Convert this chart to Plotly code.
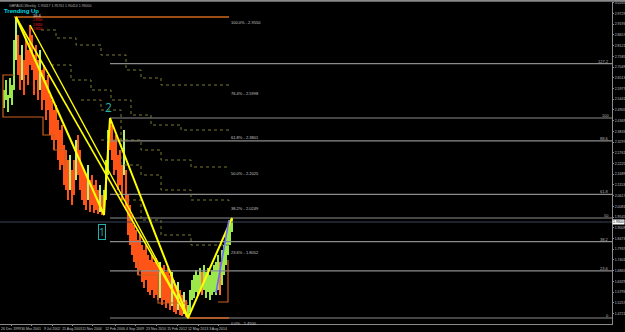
import plotly.graph_objects as go

# ---------------- data ----------------
highs = [2.59, 2.64, 2.565, 2.65, 2.615, 2.84, 2.955, 2.865, 2.765, 2.815,
         2.74, 2.84, 2.79, 2.915, 2.865, 2.765, 2.815, 2.74, 2.79, 2.69,
         2.715, 2.64, 2.665, 2.565, 2.54, 2.49, 2.515, 2.44, 2.39, 2.415,
         2.315, 2.29, 2.24, 2.265, 2.19, 2.24, 2.34, 2.365, 2.29, 2.215,
         2.19, 2.165, 2.215, 2.14, 2.165, 2.115, 2.14, 2.09, 2.115, 2.065,
         2.09, 2.24, 2.39, 2.45, 2.415, 2.34, 2.365, 2.265, 2.29, 2.215,
         2.39, 2.19, 2.065, 2.015, 1.965, 1.915, 1.89, 1.84, 1.865, 1.815,
         1.79, 1.815, 1.765, 1.74, 1.765, 1.73, 1.75, 1.715, 1.73, 1.70,
         1.715, 1.68, 1.70, 1.665, 1.68, 1.64, 1.615, 1.63, 1.59, 1.565,
         1.58, 1.54, 1.515, 1.59, 1.64, 1.665, 1.69, 1.665, 1.70, 1.68,
         1.715, 1.68, 1.70, 1.665, 1.69, 1.715, 1.73, 1.765, 1.73, 1.79,
         1.815, 1.865, 1.90, 1.94, 1.95]
lows = [2.50, 2.54, 2.48, 2.55, 2.515, 2.59, 2.74, 2.665, 2.59, 2.64,
        2.565, 2.665, 2.615, 2.715, 2.69, 2.565, 2.64, 2.54, 2.59, 2.49,
        2.54, 2.44, 2.49, 2.365, 2.34, 2.29, 2.34, 2.24, 2.19, 2.215,
        2.115, 2.09, 2.04, 2.09, 2.015, 2.065, 2.14, 2.165, 2.09, 2.04,
        2.015, 1.99, 2.04, 1.98, 2.015, 1.975, 1.99, 1.97, 1.98, 1.965,
        1.965, 2.04, 2.165, 2.29, 2.24, 2.165, 2.19, 2.09, 2.115, 2.04,
        2.165, 1.99, 1.865, 1.815, 1.765, 1.73, 1.70, 1.665, 1.69, 1.63,
        1.60, 1.64, 1.58, 1.565, 1.59, 1.55, 1.565, 1.54, 1.55, 1.515,
        1.54, 1.50, 1.525, 1.49, 1.51, 1.48, 1.47, 1.49, 1.465, 1.46,
        1.47, 1.455, 1.45, 1.48, 1.54, 1.55, 1.58, 1.56, 1.59, 1.565,
        1.59, 1.55, 1.58, 1.54, 1.565, 1.58, 1.565, 1.59, 1.565, 1.615,
        1.665, 1.715, 1.765, 1.815, 1.88]
bar_idx = list(range(len(highs)))
current_price = 1.93

# zigzag pivots (bar index, price): peak, 1, 2, bottom, last
piv_x = [6, 50, 53, 92, 114]
piv_y = [2.955, 1.965, 2.45, 1.45, 1.95]
second_top = (13, 2.915)
blue_x = [106, 112.5]
blue_y = [1.575, 1.94]

# fibonacci 1 (dotted guides, peak to bottom)
fib1_hi, fib1_lo = 2.955, 1.45
fib1_levels = [0.0, 23.6, 38.2, 50.0, 61.8, 76.4, 100.0]
fib1_x0, fib1_end = 5, 112.5
# fibonacci 2 (grey, bottom to point 2)
fib2_hi, fib2_lo = 2.45, 1.45
fib2_levels = [0.0, 23.6, 38.2, 50.0, 61.8, 88.6, 100.0, 127.2]
fib2_x0 = 53

# stepped dotted guide lines
steps = [
    ([18.5, 26, 36, 48.5, 61, 68.5, 78.5, 112.5], [2.89, 2.85, 2.815, 2.765, 2.69, 2.65, 2.615, 2.60]),
    ([23.5, 33.5, 43.5, 53.5, 63.5, 73.5, 88.5, 112.5], [2.715, 2.64, 2.59, 2.54, 2.465, 2.415, 2.39, 2.38]),
    ([38.5, 48.5, 58.5, 68.5, 78.5, 93.5, 112.5], [2.54, 2.49, 2.34, 2.29, 2.24, 2.205, 2.2025]),
    ([48.5, 58.5, 68.5, 78.5, 93.5, 112.5], [2.34, 2.215, 2.165, 2.09, 2.04, 2.025]),
    ([58.5, 68.5, 78.5, 93.5, 112.5], [2.04, 1.94, 1.865, 1.815, 1.805]),
]
# orange range boxes
orange_paths = [
    ([5, -0.5, -0.5, 19.5, 19.5, 25, 25, 30.5, 30.5], [2.665, 2.665, 2.455, 2.455, 2.365, 2.365, 2.29, 2.29, 2.19]),
    ([67, 67, 77, 77, 92], [1.74, 1.665, 1.665, 1.525, 1.525]),
    ([107, 112, 112], [1.53, 1.53, 1.74]),
]
peak_notes = ["2.9550", "2.9550", "2.9550"]

date_ticks = [3.5, 13.5, 24, 34, 44, 55.5, 65.5, 76, 86.5, 97, 107]
date_labels = ["26 Dec 1999", "30 Mar 2001", "9 Jul 2002", "21 Aug 2003", "11 Nov 2004",
               "12 Feb 2006", "4 Sep 2009", "23 Nov 2010", "15 Feb 2012", "12 May 2013", "3 Aug 2014"]
price_ticks = [3.0265, 2.9729, 2.9193, 2.8657, 2.8121, 2.7585, 2.7049, 2.6513, 2.5977, 2.5441,
               2.4905, 2.4369, 2.3833, 2.3297, 2.2761, 2.2225, 2.1689, 2.1153, 2.0617, 2.0081,
               1.9545, 1.9009, 1.8473, 1.7937, 1.7401, 1.6865, 1.6329, 1.5793, 1.5257, 1.4721]

X_MIN, X_MAX = -2.0, 304.0
Y_MIN, Y_MAX = 1.42, 3.03

fig = go.Figure()

# price bars first (objects are drawn over the chart, as in the terminal)
bar_colors = []
for i, (h, l) in enumerate(zip(highs, lows)):
    prev = (highs[i - 1] + lows[i - 1]) / 2 if i else (h + l) / 2
    falling_bar = (h + l) / 2 < prev
    down_swing = (piv_x[0] <= i < piv_x[1]) or (piv_x[2] <= i < piv_x[3])
    if down_swing:
        bar_colors.append("#ff5418" if falling_bar or i % 3 else "#b8f07a")
    else:
        bar_colors.append("#9ae84a" if not falling_bar or i % 3 else "#ff7a3a")
fig.add_trace(go.Bar(x=bar_idx, y=[h - l for h, l in zip(highs, lows)], base=lows, width=1.0,
                     marker=dict(color=bar_colors, line=dict(width=0)), hoverinfo="skip"))


def seg(x, y, color, width=1.0, dash=None, shape="linear"):
    fig.add_trace(go.Scatter(x=x, y=y, mode="lines", line_shape=shape,
                             line=dict(color=color, width=width, dash=dash), hoverinfo="skip"))


# fib 2 grey lines
for lv in fib2_levels:
    p = fib2_lo + (fib2_hi - fib2_lo) * lv / 100
    seg([fib2_x0, X_MAX], [p, p], "#8c8c8c", 1.2)
    fig.add_annotation(x=X_MAX, y=p, text=f"{lv:g}", showarrow=False, xanchor="right",
                       yanchor="bottom", font=dict(size=4, color="#b4b4b4", family="Liberation Sans"),
                       xshift=-1, yshift=-2)
# current price line
seg([X_MIN, X_MAX], [current_price, current_price], "#3a4658", 1.2)

# stepped dotted lines
for sx, sy in steps:
    seg(sx, sy, "#78782c", 1, "dot", "hv")
# orange boxes
for ox, oy in orange_paths:
    seg(ox, oy, "#c8601e", 1.2)

# fib 1 solid ends
seg([fib1_x0, fib1_end], [fib1_hi, fib1_hi], "#d2691e", 1.5)
seg([piv_x[3], fib1_end], [fib1_lo, fib1_lo], "#d2691e", 1.5)
for lv in fib1_levels:
    p = fib1_lo + (fib1_hi - fib1_lo) * lv / 100
    fig.add_annotation(x=fib1_end, y=p, text=f"{lv:.1f}% - {p:.4f}", showarrow=False,
                       xanchor="left", yanchor="top", font=dict(size=4, color="#c8c8c8",
                                                                family="Liberation Sans"), yshift=-1)

# yellow zigzag and fan lines
seg(piv_x, piv_y, "#ffff00", 2)
seg([piv_x[0], piv_x[3]], [piv_y[0], piv_y[3]], "#ffff00", 1.6)
seg([second_top[0], piv_x[3]], [second_top[1], piv_y[3]], "#ffff00", 1.4)
seg(blue_x, blue_y, "#6a6aff", 1.6)

# labels
fig.add_annotation(x=52, y=2.505, text="2", showarrow=False,
                   font=dict(size=12, color="#20b2aa"))
fig.add_annotation(x=49, y=1.88, text="1", showarrow=False,
                   font=dict(size=10, color="#20b2aa"),
                   bordercolor="#20b2aa", borderwidth=1, borderpad=0)
fig.add_annotation(x=13.5, y=2.965, text="16.4", showarrow=False, xanchor="left",
                   font=dict(size=4, color="#e0e0e0", family="Liberation Sans"))
for k, t in enumerate(peak_notes):
    fig.add_annotation(x=13.5, y=2.94 - 0.0225 * k, text=t, showarrow=False, xanchor="left",
                       font=dict(size=3, color="#ff2020", family="Liberation Sans"))
fig.add_annotation(xref="paper", yref="paper", x=0.003, y=0.9876, text="<b>Trending Up</b>", showarrow=False,
                   xanchor="left", yanchor="top", font=dict(size=6, color="#00d8e0", family="Liberation Sans"))
fig.add_annotation(xref="paper", yref="paper", x=0.012, y=1.0,
                   text="GBPAUD,Weekly  1.93417 1.95761 1.90414 1.93000",
                   showarrow=False, xanchor="left", yanchor="top",
                   font=dict(size=3.5, color="#b0b0b0", family="Liberation Sans"))
fig.add_annotation(xref="paper", x=1.0, y=current_price, text=f"{current_price:.4f}", showarrow=False,
                   xanchor="left", font=dict(size=3.5, color="#000000", family="Liberation Sans"),
                   bgcolor="#ffffff", borderpad=0)

fig.add_shape(type="line", xref="paper", yref="paper", x0=0, x1=1.03, y0=1.004, y1=1.004,
              line=dict(color="#8a8a8a", width=2))

fig.update_layout(
    width=625, height=332, margin=dict(l=0, r=13, t=2, b=8),
    paper_bgcolor="#000000", plot_bgcolor="#000000", showlegend=False, bargap=0,
    xaxis=dict(range=[X_MIN, X_MAX], tickvals=date_ticks, ticktext=date_labels, showgrid=False,
               zeroline=False, showline=True, linecolor="#8a8a8a", ticks="outside", ticklen=1,
               tickcolor="#8a8a8a", tickangle=0, automargin=False,
               tickfont=dict(size=3.5, color="#c0c0c0", family="Liberation Sans"), fixedrange=True),
    yaxis=dict(range=[Y_MIN, Y_MAX], side="right", tickvals=price_ticks,
               ticktext=[f"{v:.4f}" for v in price_ticks], showgrid=False, zeroline=False,
               showline=True, linecolor="#8a8a8a", ticks="outside", ticklen=1, tickcolor="#8a8a8a",
               automargin=False, tickfont=dict(size=3.5, color="#c0c0c0", family="Liberation Sans"),
               fixedrange=True),
)
fig.write_html("out.html")
